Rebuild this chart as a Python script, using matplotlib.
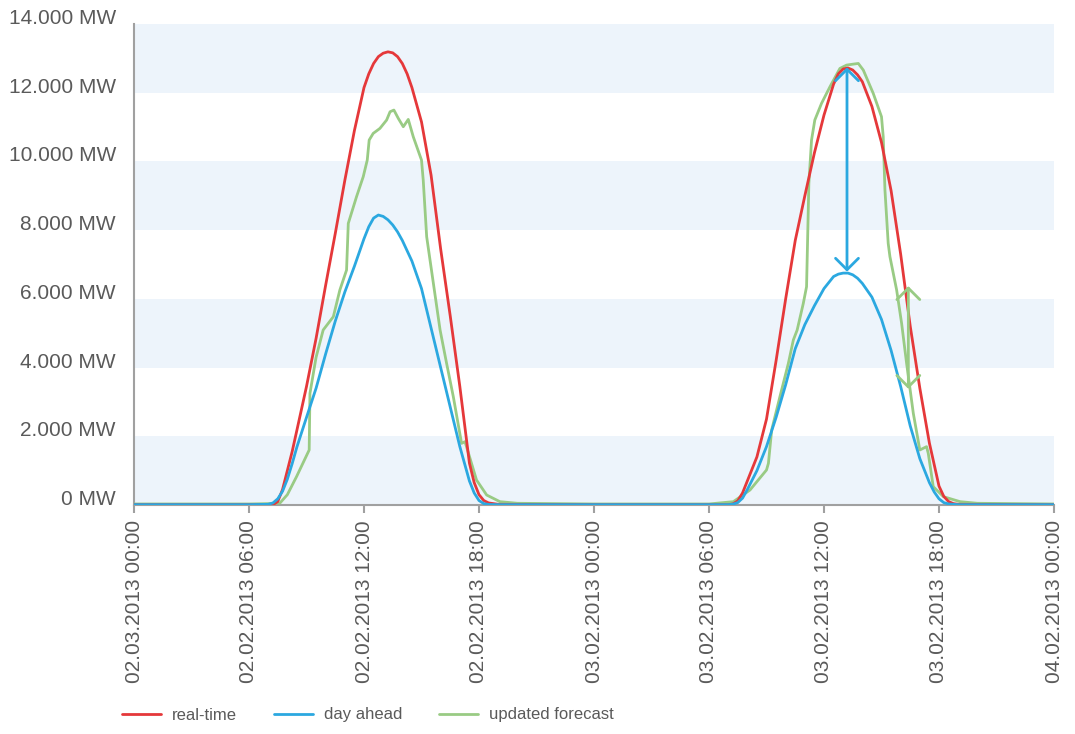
import matplotlib
matplotlib.use("Agg")
import matplotlib.pyplot as plt

plt.rcParams['font.family'] = ['Liberation Sans', 'DejaVu Sans']

# ---------------- data (hours since 02.02.2013 00:00, MW) ----------------
real_h = [0, 6, 7.0, 7.25, 7.5, 7.75, 8.0, 8.25, 8.5, 9.0, 9.5, 10.0, 10.5, 11.0, 11.5, 12.0,
          12.25, 12.5, 12.75, 13.0, 13.25, 13.5, 13.75, 14.0, 14.25, 14.5, 15.0, 15.5, 16.0,
          16.5, 17.0, 17.5, 17.75, 18.0, 18.25, 18.5, 19.0, 24, 30,
          31.0, 31.25, 31.5, 31.75, 32.0, 32.5, 33.0, 33.5, 34.0, 34.5, 35.0, 35.5, 36.0, 36.5,
          36.75, 37.0, 37.25, 37.5, 37.75, 38.0, 38.5, 39.0, 39.5, 40.0, 40.5, 41.0, 41.5,
          42.0, 42.25, 42.5, 42.75, 43.0, 48]
real_mw = [10, 10, 10, 10, 100, 450, 1000, 1550, 2180, 3450, 4850, 6400, 7900, 9450, 10900, 12150,
           12550, 12850, 13050, 13150, 13190, 13160, 13050, 12850, 12550, 12150, 11150, 9600, 7450,
           5500, 3450, 1220, 650, 300, 130, 60, 20, 10, 10,
           10, 30, 120, 350, 700, 1400, 2500, 4200, 6000, 7700, 9000, 10250, 11350, 12250,
           12550, 12690, 12720, 12660, 12520, 12320, 11600, 10550, 9150, 7300, 5200, 3400, 1800,
           550, 250, 100, 40, 20, 10]

ahead_h = [0, 6, 7.0, 7.25, 7.5, 7.75, 8.0, 8.25, 8.5, 9.0, 9.5, 10.0, 10.5, 11.0, 11.5, 12.0,
           12.25, 12.5, 12.75, 13.0, 13.25, 13.5, 13.75, 14.0, 14.5, 15.0, 15.5, 16.0, 16.5,
           17.0, 17.5, 17.75, 18.0, 18.25, 18.5, 19.0, 24, 30,
           31.0, 31.25, 31.5, 31.75, 32.0, 32.5, 33.0, 33.5, 34.0, 34.5, 35.0, 35.5, 36.0, 36.5,
           36.75, 37.0, 37.25, 37.5, 37.75, 38.0, 38.5, 39.0, 39.5, 40.0, 40.5, 41.0, 41.5,
           41.75, 42.0, 42.25, 42.5, 43.0, 48]
ahead_mw = [10, 10, 20, 60, 180, 400, 750, 1200, 1690, 2550, 3400, 4400, 5350, 6200, 6950, 7750,
            8100, 8350, 8440, 8400, 8300, 8150, 7950, 7700, 7100, 6300, 5150, 4000, 2850,
            1700, 700, 350, 130, 40, 15, 10, 10, 10,
            10, 25, 70, 200, 450, 1000, 1700, 2550, 3500, 4550, 5250, 5800, 6300, 6650,
            6720, 6750, 6750, 6700, 6600, 6450, 6050, 5400, 4500, 3450, 2300, 1350, 650,
            380, 180, 70, 30, 10, 10]

upd_h = [0, 6, 7.0, 7.62, 8.0, 8.48, 9.14, 9.18, 9.5, 9.87, 10.4, 10.74, 11.09, 11.18, 11.61, 11.96,
         12.17, 12.27, 12.48, 12.83, 13.18, 13.36, 13.56, 13.79, 14.05, 14.31, 14.57, 15.0, 15.09,
         15.27, 15.62, 15.97, 16.31, 16.66, 17.09, 17.27, 17.87, 18.4, 19.09, 20, 24, 30,
         31.27, 32.14, 33.0, 33.1, 33.27, 33.7, 34.14, 34.4, 34.6, 34.92, 35.09, 35.21, 35.35,
         35.52, 35.87, 36.31, 36.83, 37.18, 37.5, 37.79, 38.05, 38.57, 39.0, 39.09, 39.18, 39.35,
         39.44, 39.79, 40.05, 40.31, 40.66, 41.0, 41.35, 41.44, 41.7, 42.23, 43.1, 44, 48]
upd_mw = [30, 30, 40, 60, 300, 825, 1601, 3249, 4300, 5093, 5481, 6257, 6839, 8197, 8973, 9555,
          10040, 10622, 10816, 10961, 11204, 11446, 11495, 11252, 11010, 11223, 10719, 10040, 9458,
          7808, 6450, 5093, 4122, 3152, 1794, 1843, 728, 291, 97, 50, 30, 30,
          97, 437, 1019, 1213, 2183, 3152, 4122, 4802, 5093, 5868, 6354, 9360, 10622,
          11204, 11688, 12173, 12707, 12804, 12830, 12852, 12659, 11979, 11301, 10719, 9167, 7614,
          7227, 6257, 5286, 4122, 2667, 1601, 1698, 1503, 534, 243, 97, 50, 30]

# arrows: (hour, from MW, to MW)
arrow_blue = (37.2, 12740, 6790)
arrow_green = (40.4, 6370, 3380)

x_ticks = [0, 6, 12, 18, 24, 30, 36, 42, 48]
x_labels = ["02.03.2013 00:00", "02.02.2013 06:00", "02.02.2013 12:00", "02.02.2013 18:00",
            "03.02.2013 00:00", "03.02.2013 06:00", "03.02.2013 12:00", "03.02.2013 18:00",
            "04.02.2013 00:00"]
y_ticks = [0, 2000, 4000, 6000, 8000, 10000, 12000, 14000]
y_labels = ["0 MW", "2.000 MW", "4.000 MW", "6.000 MW", "8.000 MW", "10.000 MW",
            "12.000 MW", "14.000 MW"]
series_names = ["real-time", "day ahead", "updated forecast"]

RED = "#e5383a"
BLUE = "#2ba8e0"
GREEN = "#99cb84"
BAND = "#edf4fb"
TXT = "#5a5a5a"
AX = "#a0a0a0"

fig = plt.figure(figsize=(10.75, 7.34), dpi=100)
ax = fig.add_axes([134/1075, 1-505/734, (1054-134)/1075, (505-24)/734])

# alternating bands
for i in range(0, len(y_ticks) - 1, 2):
    ax.axhspan(y_ticks[i], y_ticks[i+1], color=BAND, zorder=0, lw=0)

lw = 2.0
ax.plot(real_h, real_mw, color=RED, lw=lw, label=series_names[0], zorder=3,
        solid_joinstyle='round', solid_capstyle='round')
ax.plot(ahead_h, ahead_mw, color=BLUE, lw=lw, label=series_names[1], zorder=3,
        solid_joinstyle='round', solid_capstyle='round')
ax.plot(upd_h, upd_mw, color=GREEN, lw=lw, label=series_names[2], zorder=2,
        solid_joinstyle='round', solid_capstyle='round')

for (xh, y0, y1), c in [(arrow_blue, BLUE), (arrow_green, GREEN)]:
    ax.annotate("", xy=(xh, y1), xytext=(xh, y0),
                arrowprops=dict(arrowstyle="<->,head_length=0.55,head_width=0.55",
                                color=c, lw=2.0, shrinkA=0, shrinkB=0, mutation_scale=15),
                zorder=4)

ax.set_xlim(x_ticks[0], x_ticks[-1])
ax.set_ylim(y_ticks[0], y_ticks[-1])
ax.set_xticks(x_ticks)
ax.set_xticklabels(x_labels, rotation=90, fontsize=15, color=TXT)
ax.set_yticks(y_ticks)
ax.set_yticklabels(y_labels, fontsize=15, color=TXT)
for lab in ax.get_yticklabels():
    lab.set_verticalalignment('baseline')
ax.set_yticks([0], minor=True)
ax.tick_params(axis='y', which='major', length=0, pad=13)
ax.tick_params(axis='y', which='minor', length=6, width=1.5, color=AX)
ax.tick_params(axis='x', length=6, width=1.5, color=AX, pad=5, direction='out')

for s in ['top', 'right']:
    ax.spines[s].set_visible(False)
for s in ['left', 'bottom']:
    ax.spines[s].set_color(AX)
    ax.spines[s].set_linewidth(1.5)
    ax.spines[s].set_zorder(1)

fig.legend(loc='center left', bbox_to_anchor=(122/1075, 1-715/734), ncol=3, frameon=False,
           fontsize=12, handlelength=2.35, handletextpad=0.65, columnspacing=2.2,
           borderpad=0, borderaxespad=0, labelcolor=TXT)

fig.savefig("out.png", dpi=100)
